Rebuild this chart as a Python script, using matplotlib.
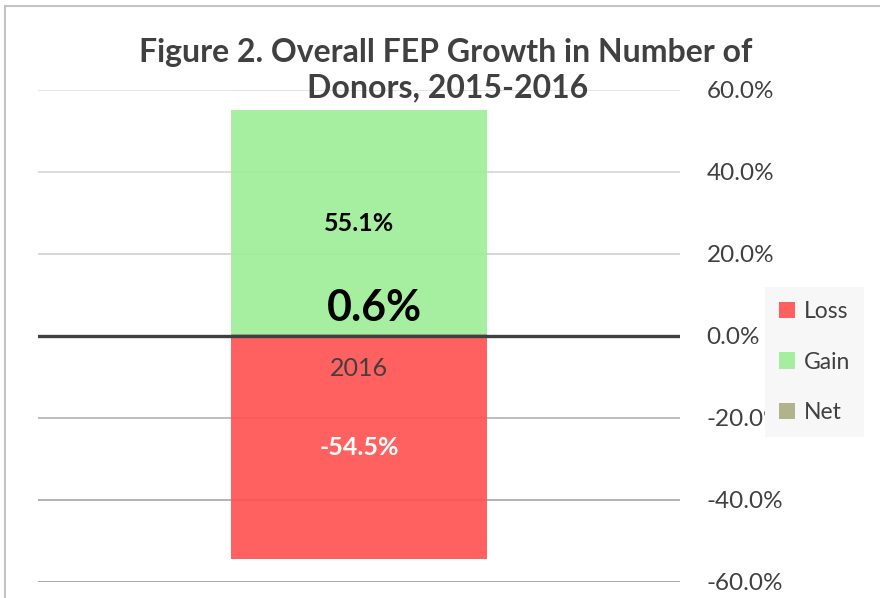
import matplotlib.pyplot as plt
from matplotlib.patches import Rectangle
from matplotlib.ticker import FuncFormatter

plt.rcParams['font.family'] = ['Lato', 'DejaVu Sans']

TITLE_LINES = ["Figure 2. Overall FEP Growth in Number of", "Donors, 2015-2016"]
categories = ['2016']
loss = [-54.5]
gain = [55.1]
net = [0.6]
y_ticks = [-60, -40, -20, 0, 20, 40, 60]
grid_colors = ['#a8a8a8', '#b2b2b2', '#bdbdbd', '#404040', '#d6d6d6', '#dcdcdc', '#e4e4e4']

TEXT = '#404040'

fig = plt.figure(figsize=(8.8, 5.98), dpi=100)
ax = fig.add_axes([38 / 880, 1 - 582 / 598, (680 - 38) / 880, (582 - 90) / 598])

x = list(range(len(categories)))
for t, c in zip(y_ticks, grid_colors):
    if t == 0:
        continue
    ax.axhline(t, color=c, lw=1.4, zorder=1)

b_loss = ax.bar(x, loss, width=0.4, color='#ff5050', alpha=0.9, label='Loss', zorder=2)
b_gain = ax.bar(x, gain, width=0.4, color='#9cee96', alpha=0.9, label='Gain', zorder=2)
b_net = ax.bar(x, net, width=0.4, color='#a4a87a', alpha=0.85, label='Net', zorder=2)
ax.axhline(0, color='#404040', lw=2.4, zorder=3)

ax.bar_label(b_gain, labels=[f"{v:.1f}%" for v in gain], label_type='center',
             fontsize=18, fontweight='bold', color='black')
ax.bar_label(b_loss, labels=[f"{v:.1f}%" for v in loss], label_type='center',
             fontsize=18, fontweight='bold', color='white')
for xi, v in zip(x, net):
    ax.annotate(f"{v:.1f}%", xy=(xi, v), xytext=(15, 26), textcoords='offset pixels',
                ha='center', va='center', fontsize=31, fontweight='bold', color='black', zorder=4)
for xi, c in zip(x, categories):
    ax.annotate(c, xy=(xi, 0), xytext=(0, -32), textcoords='offset pixels',
                ha='center', va='center', fontsize=18, color=TEXT, zorder=4)

ax.set_xlim(-0.5, 0.5)
ax.set_ylim(-60, 60)
ax.set_yticks(y_ticks)
ax.yaxis.set_major_formatter(FuncFormatter(lambda v, p: f"{v:.1f}%"))
ax.yaxis.tick_right()
ax.tick_params(axis='y', length=0, pad=19, labelsize=17.5, labelcolor=TEXT)
ax.set_xticks([])
for s in ax.spines.values():
    s.set_visible(False)
ax.patch.set_visible(False)

# title as two lines so each line keeps its own box
fig.text(446 / 880, 1 - 62 / 598, TITLE_LINES[0], ha='center', va='baseline', fontsize=23,
         fontweight='bold', color=TEXT)
fig.text(448 / 880, 1 - 97 / 598, TITLE_LINES[1], ha='center', va='baseline', fontsize=23,
         fontweight='bold', color=TEXT)

leg = ax.legend(loc='upper left', bbox_to_anchor=(765 / 880, 1 - 287 / 598),
                bbox_transform=fig.transFigure, frameon=True, fancybox=False,
                facecolor='#f7f7f7', edgecolor='none', framealpha=1,
                fontsize=16.5, labelspacing=1.3, handlelength=0.7, handleheight=0.7,
                handletextpad=0.4, borderpad=0.6, borderaxespad=0)
for t in leg.get_texts():
    t.set_color(TEXT)

fig.patches.append(Rectangle((5 / 880, -0.1), 1.2, 1.1 - 6 / 598, transform=fig.transFigure,
                             fill=False, edgecolor='#c4c4c4', lw=1.5))

fig.savefig('out.png', dpi=100)
